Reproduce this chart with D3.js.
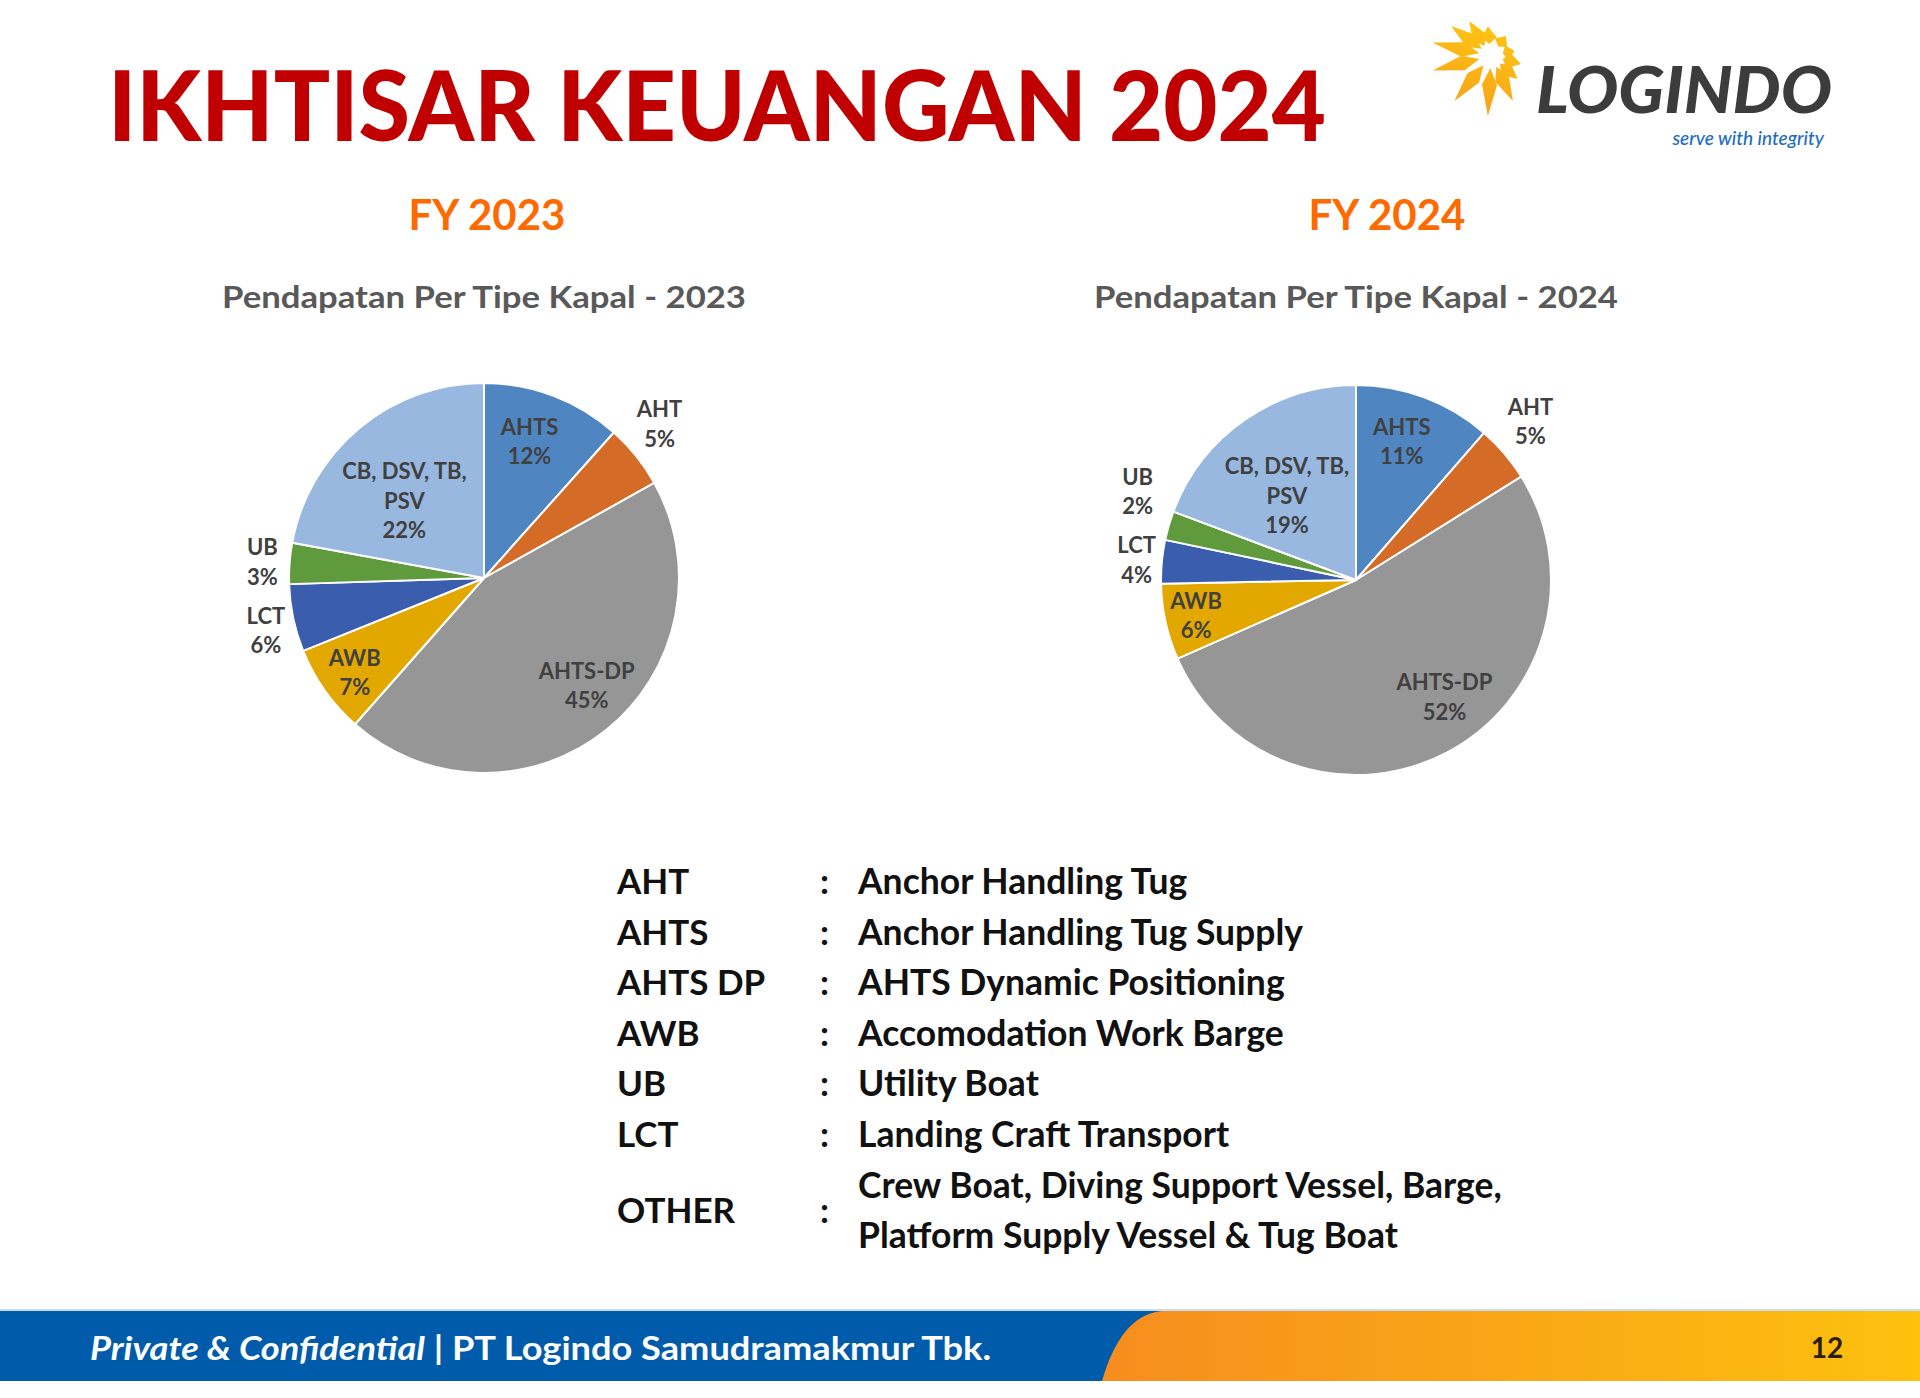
<!DOCTYPE html>
<html>
<head>
<meta charset="utf-8">
<script src="https://cdn.jsdelivr.net/npm/d3@7"></script>
<style>
  html, body { margin: 0; padding: 0; background: #fff; }
  svg { display: block; }
</style>
</head>
<body>
<svg id="chart" width="1920" height="1398"></svg>
<script>
// ---------------- DATA ----------------
const categories = ["AHTS", "AHT", "AHTS-DP", "AWB", "LCT", "UB", "CB, DSV, TB, PSV"];
const values2023 = [11.6, 5.3, 44.6, 7.4, 5.6, 3.4, 22.1];
const values2024 = [11.4, 4.7, 52.3, 6.3, 3.6, 2.4, 19.3];
const chartTitles = ["Pendapatan Per Tipe Kapal - 2023", "Pendapatan Per Tipe Kapal - 2024"];
const periodLabels = ["FY 2023", "FY 2024"];
const legendAbbr = ["AHT", "AHTS", "AHTS DP", "AWB", "UB", "LCT", "OTHER"];
const legendDesc = [
  ["Anchor Handling Tug"],
  ["Anchor Handling Tug Supply"],
  ["AHTS Dynamic Positioning"],
  ["Accomodation Work Barge"],
  ["Utility Boat"],
  ["Landing Craft Transport"],
  ["Crew Boat, Diving Support Vessel, Barge,", "Platform Supply Vessel & Tug Boat"]
];

// ---------------- STYLE / LAYOUT ----------------
const sliceColors = {
  "AHTS": "#4F86C2",
  "AHT": "#D46B27",
  "AHTS-DP": "#969696",
  "AWB": "#E2A800",
  "LCT": "#3A5DAE",
  "UB": "#5F9B3C",
  "CB, DSV, TB, PSV": "#98B8E0"
};
const labelWrap = { "CB, DSV, TB, PSV": ["CB, DSV, TB,", "PSV"] };
const labelLayouts = [
  { "AHTS": {r: 0.74, da: -2.5}, "AHT": {r: 1.2, da: -2.7}, "AHTS-DP": {r: 0.76, da: -5},
    "AWB": {r: 0.82, da: -0.8}, "LCT": {r: 1.15, da: -1.5}, "UB": {r: 1.14, da: 0},
    "CB, DSV, TB, PSV": {r: 0.57, da: -6} },
  { "AHTS": {r: 0.75, da: -2.3}, "AHT": {r: 1.21, da: -1.8}, "AHTS-DP": {r: 0.75, da: -9.3},
    "AWB": {r: 0.84, da: 0}, "LCT": {r: 1.13, da: 0}, "UB": {r: 1.21, da: 6},
    "CB, DSV, TB, PSV": {r: 0.56, da: -4.5} }
];
const pieCenters = [[484, 578], [1356, 580]];
const pieRadius = 195;
const FONT = "Lato, 'Open Sans', sans-serif";

const svg = d3.select("#chart");
svg.append("rect").attr("width", 1920).attr("height", 1398).attr("fill", "#fff");
const defs = svg.append("defs");

// ---------------- TITLE ----------------
svg.append("text")
  .attr("x", 108).attr("y", 141)
  .attr("font-family", FONT).attr("font-weight", 900)
  .attr("font-size", 98).attr("fill", "#C00000")
  .attr("textLength", 1218).attr("lengthAdjust", "spacingAndGlyphs")
  .text("IKHTISAR KEUANGAN 2024");

// ---------------- LOGO ----------------
const logo = svg.append("g");
const sunCx = 1491, sunCy = 56;
const sg = defs.append("linearGradient").attr("id", "sunGrad")
  .attr("gradientUnits", "userSpaceOnUse")
  .attr("x1", sunCx).attr("y1", sunCy - 40).attr("x2", sunCx - 30).attr("y2", sunCy + 60);
sg.append("stop").attr("offset", "0%").attr("stop-color", "#FDC812");
sg.append("stop").attr("offset", "100%").attr("stop-color", "#F7A01B");
const rayAngles = [-12, -53, -96, -122, -143, 193, 166, 129, 93, 64, 41, 15];
const rayLens   = [ 24,  25,  30,   41,   50,  60,  60,  58, 60, 50, 35, 31];
rayAngles.forEach((a, i) => {
  const rad = a * Math.PI / 180;
  const r0 = 12, r1 = rayLens[i], w = 7.5;
  const rm = r0 + (r1 - r0) * 0.35;
  const ux = Math.cos(rad), uy = Math.sin(rad);
  const px = -uy, py = ux;
  const pts = [
    [sunCx + ux * r0, sunCy + uy * r0],
    [sunCx + ux * rm + px * w, sunCy + uy * rm + py * w],
    [sunCx + ux * r1, sunCy + uy * r1],
    [sunCx + ux * rm - px * w, sunCy + uy * rm - py * w]
  ];
  logo.append("polygon").attr("points", pts.map(p => p.join(",")).join(" "))
    .attr("fill", "url(#sunGrad)");
});
logo.append("text")
  .attr("x", 1536).attr("y", 113)
  .attr("font-family", FONT).attr("font-weight", 900).attr("font-style", "italic")
  .attr("font-size", 65).attr("fill", "#3C3C3C")
  .attr("textLength", 296).attr("lengthAdjust", "spacingAndGlyphs")
  .text("LOGINDO");
logo.append("text")
  .attr("x", 1824).attr("y", 145).attr("text-anchor", "end")
  .attr("font-family", FONT).attr("font-style", "italic").attr("font-weight", 500)
  .attr("font-size", 19).attr("fill", "#1E6CC0")
  .text("serve with integrity");

// ---------------- PIES ----------------
const pie = d3.pie().sort(null).value(d => d.value);
const arc = d3.arc().innerRadius(0).outerRadius(pieRadius);
const pctFmt = v => d3.format(".0f")(v) + "%";

[values2023, values2024].forEach((vals, ci) => {
  const [cx, cy] = pieCenters[ci];
  const data = categories.map((c, i) => ({ cat: c, value: vals[i] }));
  const arcs = pie(data);

  svg.append("text")
    .attr("x", cx + (ci === 0 ? 3 : 31)).attr("y", 230).attr("text-anchor", "middle")
    .attr("font-family", FONT).attr("font-weight", 700).attr("font-size", 42)
    .attr("fill", "#FF6A00").text(periodLabels[ci]);

  svg.append("text")
    .attr("x", cx).attr("y", 308).attr("text-anchor", "middle")
    .attr("font-family", FONT).attr("font-weight", 700).attr("font-size", 31)
    .attr("fill", "#595959")
    .attr("textLength", 524).attr("lengthAdjust", "spacingAndGlyphs")
    .text(chartTitles[ci]);

  const g = svg.append("g").attr("transform", `translate(${cx},${cy})`);
  g.selectAll("path").data(arcs).join("path")
    .attr("d", arc)
    .attr("fill", d => sliceColors[d.data.cat])
    .attr("stroke", "#fff").attr("stroke-width", 2).attr("stroke-linejoin", "round");

  const layout = labelLayouts[ci];
  arcs.forEach(d => {
    const L = layout[d.data.cat];
    const a = (d.startAngle + d.endAngle) / 2 + L.da * Math.PI / 180;
    const x = Math.sin(a) * pieRadius * L.r;
    const y = -Math.cos(a) * pieRadius * L.r;
    const lines = (labelWrap[d.data.cat] || [d.data.cat]).concat([pctFmt(d.data.value)]);
    const lh = 29.5;
    const t = g.append("text")
      .attr("font-family", FONT).attr("font-weight", 700).attr("font-size", 22)
      .attr("fill", "#404040").attr("text-anchor", "middle");
    lines.forEach((ln, li) => {
      t.append("tspan")
        .attr("x", x)
        .attr("y", y + (li - (lines.length - 1) / 2) * lh)
        .attr("dominant-baseline", "central")
        .text(ln);
    });
  });
});

// ---------------- LEGEND TABLE ----------------
const rowY = d3.scaleLinear().domain([0, 1]).range([894, 944.6]);
let lineIdx = 0;
legendAbbr.forEach((ab, i) => {
  const desc = legendDesc[i];
  const yMid = rowY(lineIdx + (desc.length - 1) / 2);
  svg.append("text").attr("x", 617).attr("y", yMid)
    .attr("font-family", FONT).attr("font-weight", 700).attr("font-size", 35)
    .attr("fill", "#111").text(ab);
  svg.append("text").attr("x", 820).attr("y", yMid)
    .attr("font-family", FONT).attr("font-weight", 700).attr("font-size", 35)
    .attr("fill", "#111").text(":");
  desc.forEach((ln, k) => {
    svg.append("text").attr("x", 858).attr("y", rowY(lineIdx + k))
      .attr("font-family", FONT).attr("font-weight", 700).attr("font-size", 35.5)
      .attr("fill", "#111").text(ln);
  });
  lineIdx += desc.length;
});

// ---------------- FOOTER ----------------
const fg = defs.append("linearGradient").attr("id", "footGrad")
  .attr("x1", "0").attr("y1", "0").attr("x2", "1").attr("y2", "0");
fg.append("stop").attr("offset", "0%").attr("stop-color", "#F68D1F");
fg.append("stop").attr("offset", "100%").attr("stop-color", "#FDC10E");
svg.append("rect").attr("x", 0).attr("y", 1309).attr("width", 1920).attr("height", 2).attr("fill", "#C9DDF0");
svg.append("rect").attr("x", 0).attr("y", 1311).attr("width", 1920).attr("height", 70).attr("fill", "#005BAA");
svg.append("path")
  .attr("d", "M1162,1311 C1132,1314 1114,1340 1102,1381 L1920,1381 L1920,1311 Z")
  .attr("fill", "url(#footGrad)");
const ft = svg.append("text").attr("x", 90).attr("y", 1360)
  .attr("font-family", FONT).attr("font-weight", 700).attr("font-size", 33).attr("fill", "#fff")
  .attr("textLength", 901).attr("lengthAdjust", "spacingAndGlyphs");
ft.append("tspan").attr("font-style", "italic").text("Private & Confidential");
ft.append("tspan").text(" | PT Logindo Samudramakmur Tbk.");
svg.append("text").attr("x", 1827).attr("y", 1358).attr("text-anchor", "middle")
  .attr("font-family", FONT).attr("font-weight", 700).attr("font-size", 28)
  .attr("fill", "#2B1D00").text("12");
</script>
</body>
</html>
